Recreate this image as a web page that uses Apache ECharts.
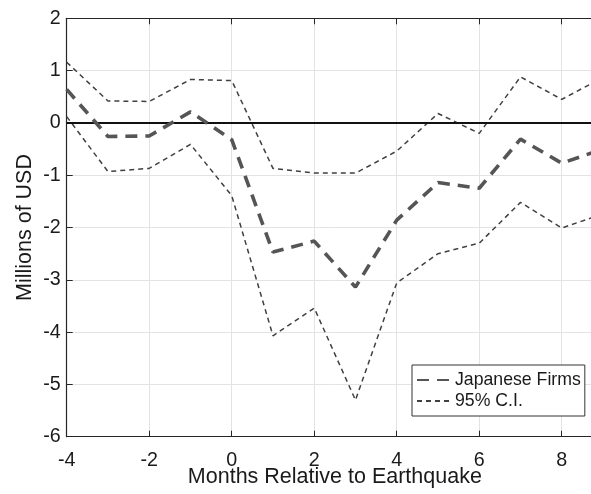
<!DOCTYPE html>
<html>
<head>
<meta charset="utf-8">
<script src="https://cdn.jsdelivr.net/npm/echarts@6/dist/echarts.min.js"></script>
<style>html,body{margin:0;padding:0;background:#fff;}#c{width:591px;height:494px;}</style>
</head>
<body>
<div id="c"></div>
<script>
var months   = [-4, -3, -2, -1, 0, 1, 2, 3, 4, 5, 6, 7, 8, 9];
var firms    = [0.64, -0.26, -0.25, 0.21, -0.32, -2.47, -2.26, -3.14, -1.86, -1.14, -1.25, -0.31, -0.77, -0.50];
var ciUpper  = [1.16, 0.42, 0.41, 0.83, 0.81, -0.87, -0.96, -0.96, -0.54, 0.18, -0.20, 0.88, 0.45, 0.87];
var ciLower  = [0.12, -0.93, -0.87, -0.41, -1.39, -4.07, -3.54, -5.30, -3.06, -2.50, -2.30, -1.52, -2.01, -1.74];
var xTicks   = [-4, -2, 0, 2, 4, 6, 8];
var yTicks   = [-6, -5, -4, -3, -2, -1, 0, 1, 2];
var seriesNames = ['Japanese Firms', '95% C.I.'];
var xTitle = 'Months Relative to Earthquake';
var yTitle = 'Millions of USD';

function pairs(v){ return months.map(function(m,i){ return [m, v[i]]; }); }

var FONT = 'Liberation Sans, Arial, sans-serif';
var chart = echarts.init(document.getElementById('c'), null, {renderer:'canvas'});
var axisCommon = {
  type: 'value',
  nameMoveOverlap: false,
  axisLine: {show: true, onZero: false, lineStyle: {color: '#262626', width: 1.2}},
  axisTick: {show: true, inside: true, length: 6, lineStyle: {color: '#262626', width: 1}},
  splitLine: {show: true, lineStyle: {color: '#e3e3e3', width: 1}}
};
var option = {
  animation: false,
  backgroundColor: '#fff',
  grid: {left: 66.7, width: 536.3, top: 18.3, bottom: 57.3, containLabel: false, outerBoundsMode: 'none'},
  legend: {
    orient: 'vertical',
    left: 412, top: 365,
    data: seriesNames,
    itemWidth: 36, itemHeight: 20, itemGap: 3,
    padding: [6, 4, 6, 4],
    borderColor: '#333', borderWidth: 1,
    backgroundColor: '#fff',
    itemStyle: {opacity: 0},
    textStyle: {fontFamily: FONT, fontSize: 17.7, color: '#1a1a1a', padding: [0,0,0,-3]}
  },
  xAxis: [
    Object.assign({}, axisCommon, {
      min: xTicks[0], max: 9, interval: 2, position: 'bottom',
      name: xTitle, nameLocation: 'middle', nameGap: 29,
      nameTextStyle: {fontFamily: FONT, fontSize: 21.5, color: '#1a1a1a'},
      axisLabel: {fontFamily: FONT, fontSize: 19.7, color: '#1a1a1a', margin: 14, showMaxLabel: false,
        formatter: function(v){ return xTicks.indexOf(v) >= 0 ? String(v) : ''; }}
    }),
    Object.assign({}, axisCommon, {
      min: xTicks[0], max: 9, interval: 2, position: 'top',
      axisLabel: {show: false}, splitLine: {show: false}
    })
  ],
  yAxis: Object.assign({}, axisCommon, {
    min: yTicks[0], max: yTicks[yTicks.length-1], interval: 1,
    name: yTitle, nameLocation: 'middle', nameGap: 31, nameRotate: 90,
    nameTextStyle: {fontFamily: FONT, fontSize: 21.5, color: '#1a1a1a'},
    axisLabel: {fontFamily: FONT, fontSize: 19.7, color: '#1a1a1a', margin: 6}
  }),
  series: [
    {
      name: seriesNames[0], type: 'line', data: pairs(firms), symbol: 'none', z: 5,
      lineStyle: {color: '#555555', width: 3.6, type: [12, 8]},
      itemStyle: {color: '#555555'},
      markLine: {
        silent: true, symbol: 'none', label: {show: false}, animation: false,
        lineStyle: {color: '#111', width: 2, type: 'solid'},
        data: [{yAxis: 0}]
      }
    },
    {
      name: seriesNames[1], type: 'line', data: pairs(ciUpper), symbol: 'none', z: 4,
      lineStyle: {color: '#404040', width: 1.5, type: [5, 4]},
      itemStyle: {color: '#404040'}
    },
    {
      name: seriesNames[1], type: 'line', data: pairs(ciLower), symbol: 'none', z: 4,
      lineStyle: {color: '#404040', width: 1.5, type: [5, 4]},
      itemStyle: {color: '#404040'}
    }
  ]
};
chart.setOption(option);
</script>
</body>
</html>
